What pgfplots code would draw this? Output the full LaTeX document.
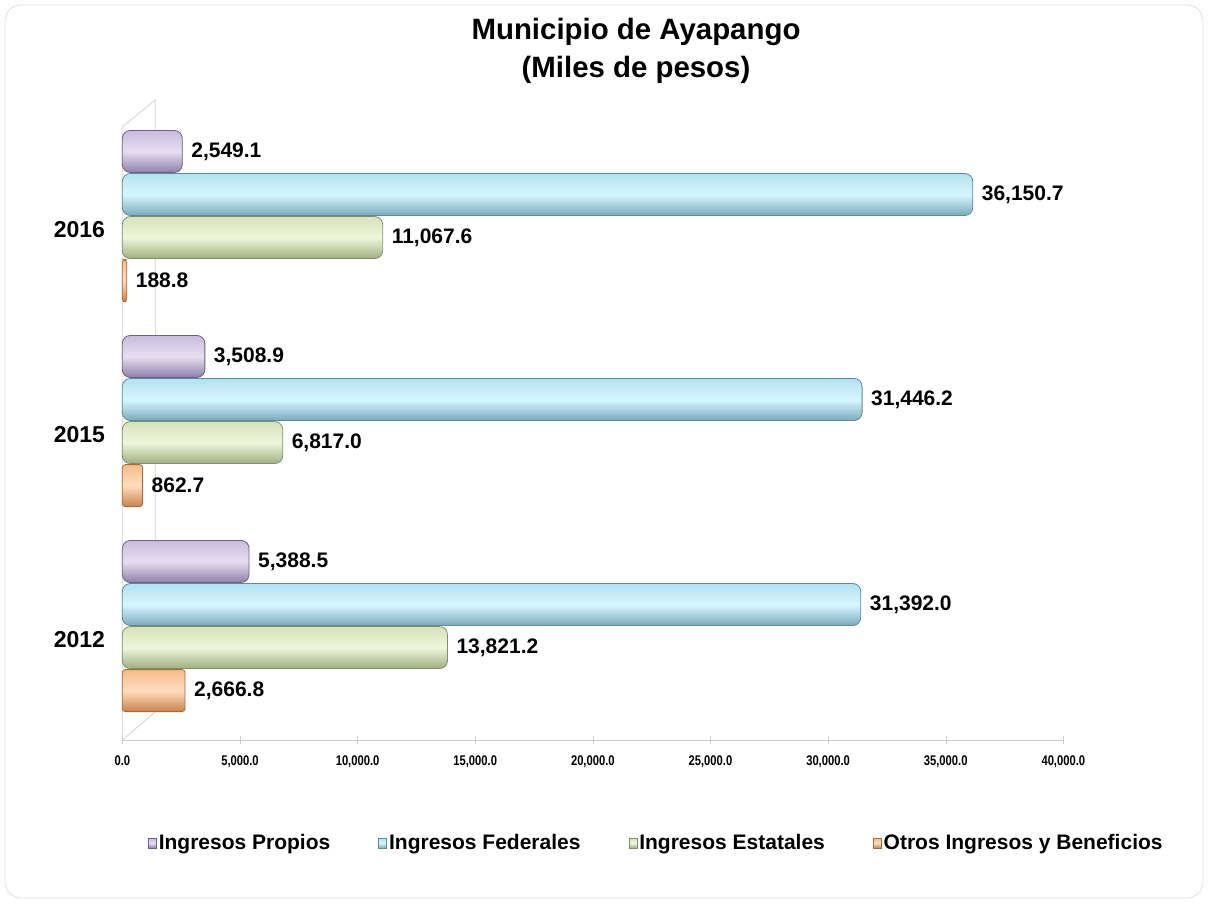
\documentclass[border=0pt]{standalone}
\usepackage{pgfplots}
\pgfplotsset{compat=1.18}
\usepackage{fontspec}
\setmainfont{Liberation Sans}
\newfontfamily\narrowfont[FakeStretch=0.8]{Liberation Sans}
\definecolor{purT}{HTML}{C8BBDD}\definecolor{purM}{HTML}{E6DFF1}\definecolor{purB}{HTML}{8F7FAA}\definecolor{purD}{HTML}{6E6088}
\definecolor{bluT}{HTML}{B2E2F0}\definecolor{bluM}{HTML}{D6F7FF}\definecolor{bluB}{HTML}{7AAABD}\definecolor{bluD}{HTML}{5F8A9C}
\definecolor{grnT}{HTML}{D6E3B8}\definecolor{grnM}{HTML}{EFF5DC}\definecolor{grnB}{HTML}{A0B080}\definecolor{grnD}{HTML}{80906A}
\definecolor{orgT}{HTML}{F6BC8A}\definecolor{orgM}{HTML}{FFDDBD}\definecolor{orgB}{HTML}{C9834D}\definecolor{orgD}{HTML}{A86A3A}
\pgfplotsset{
  purS/.style={bar shift=0.315, draw=purD, top color=purT, bottom color=purB, middle color=purM, rounded corners=4pt},
  bluS/.style={bar shift=0.105, draw=bluD, top color=bluT, bottom color=bluB, middle color=bluM, rounded corners=4pt},
  grnS/.style={bar shift=-0.105, draw=grnD, top color=grnT, bottom color=grnB, middle color=grnM, rounded corners=4pt},
  orgS/.style={bar shift=-0.315, draw=orgD, top color=orgT, bottom color=orgB, middle color=orgM, rounded corners=1.5pt},
}
\begin{document}
\begin{tikzpicture}[x=1pt,y=1pt]
\path[use as bounding box] (0,0) rectangle (604,451.5);
\draw[gray!25, rounded corners=8pt] (2.5,2.5) rectangle (601.5,449);
\node[font=\bfseries\fontsize{14.7}{19}\selectfont, align=center] at (318,426) {Municipio de Ayapango\\(Miles de pesos)};
\begin{axis}[at={(52,79.5)}, anchor=south west, scale only axis,
  width=470.5pt, height=320pt,
  xmin=0, xmax=40000, ymin=-0.556, ymax=2.566,
  xbar, bar width=0.205,
  axis x line=bottom, axis y line=left,
  axis line style={gray!40, -},
  y axis line style={draw=none},
  xtick={0,5000,...,40000},
  xtick style={gray!40},
  ytick={0,1,2}, yticklabels={2012,2015,2016},
  ytick style={draw=none},
  yticklabel style={font=\bfseries\fontsize{11.5}{12}\selectfont, yshift=-7pt, xshift=-3pt},
  xticklabel style={font=\narrowfont\bfseries\fontsize{7}{8}\selectfont, yshift=-2pt},
  xticklabel={\pgfmathprintnumber[fixed,fixed zerofill,precision=1,1000 sep={,},assume math mode=true]{\tick}},
  scaled x ticks=false,
  point meta=x,
  nodes near coords={\pgfmathprintnumber[fixed,fixed zerofill,precision=1,1000 sep={,},assume math mode=true]{\pgfplotspointmeta}},
  nodes near coords style={font=\bfseries\fontsize{10.5}{11}\selectfont, anchor=west, xshift=1pt, text=black},
  legend columns=4,
  legend style={at={(0.5685,-0.161)}, anchor=center, draw=none, fill=none,
    font=\bfseries\fontsize{10.5}{12}\selectfont,
    /tikz/every odd column/.append style={column sep=-1pt},
    /tikz/every even column/.append style={column sep=22pt}},
  legend image code/.code={\draw[#1, rounded corners=0pt, line width=0.4pt] (0pt,-2.5pt) rectangle (4pt,2.5pt);},
  clip=false,
]
\draw[gray!35] (rel axis cs:0,0) -- (rel axis cs:0,0.958) -- (rel axis cs:0.035,1) -- (rel axis cs:0.035,0.044) -- cycle;
\addplot[purS] coordinates {(2549.1,2)};
\addplot[bluS] coordinates {(36150.7,2)};
\addplot[grnS] coordinates {(11067.6,2)};
\addplot[orgS] coordinates {(188.8,2)};
\addplot[purS, forget plot] coordinates {(3508.9,1)};
\addplot[bluS, forget plot] coordinates {(31446.2,1)};
\addplot[grnS, forget plot] coordinates {(6817.0,1)};
\addplot[orgS, forget plot] coordinates {(862.7,1)};
\addplot[purS, forget plot] coordinates {(5388.5,0)};
\addplot[bluS, forget plot] coordinates {(31392.0,0)};
\addplot[grnS, forget plot] coordinates {(13821.2,0)};
\addplot[orgS, forget plot] coordinates {(2666.8,0)};
\legend{Ingresos Propios, Ingresos Federales, Ingresos Estatales, Otros Ingresos y Beneficios}
\end{axis}
\end{tikzpicture}
\end{document}
